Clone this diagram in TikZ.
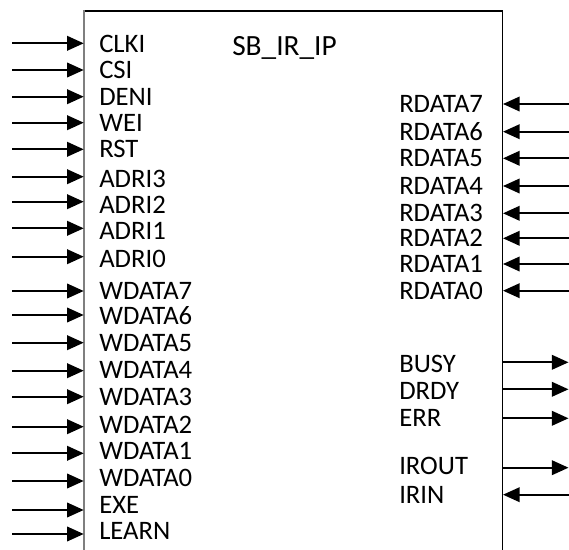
\documentclass[tikz,border=0pt]{standalone}
\usepackage{fontspec}
\setmainfont{Carlito}
\usetikzlibrary{arrows.meta,positioning,calc}
\definecolor{edgegray}{RGB}{127,127,127}
\tikzset{
  sig/.style={inner sep=0pt, anchor=west, font=\fontsize{20}{24}\selectfont,
              text height=12.6pt, text depth=0pt},
  arr/.style={-{Triangle[length=12.5pt,width=11pt]}, line width=1.3pt},
}

\begin{document}
\begin{tikzpicture}[x=0.75pt, y=-0.75pt]
    \useasboundingbox (0,0) rectangle (569,550);
    % block outline, open at the bottom
    \node[draw, line width=1pt, anchor=north west, inner sep=0pt,
          minimum width=313.5pt, minimum height=420pt] (ip) at (83.7,10.3) {};
    \draw[edgegray, line width=1.5pt] (ip.north west)--(ip.south west);
    \node[sig, font=\fontsize{22}{26}\selectfont, text height=13.9pt] (title) at (232,46) {SB\_IR\_IP};
    % left side inputs
    \foreach \name/\ty/\ay [count=\i] in {CLKI/43.8/43.3, CSI/70/70, DENI/97.2/96.7,
        WEI/122.8/122.7, RST/149.5/149.3, ADRI3/179/176.7, ADRI2/204.7/201.7,
        ADRI1/231.5/228.3, ADRI0/258.7/256.7, WDATA7/291.3/291, WDATA6/316.5/315,
        WDATA5/343.3/342.7, WDATA4/370.5/370.7, WDATA3/397/396.7, WDATA2/424.7/426.7,
        WDATA1/451/453.3, WDATA0/478/481, EXE/504.7/510, LEARN/531/534}{
      \node[sig] (in\i) at (99,\ty) {\name};
      \coordinate (a\i) at (12,\ay);
      \draw[arr] (a\i)--(a\i -| ip.west);
    }
    % right side inputs
    \foreach \name/\ay [count=\i] in {RDATA7/104, RDATA6/131.7, RDATA5/158.3, RDATA4/186,
        RDATA3/213.3, RDATA2/238.3, RDATA1/264, RDATA0/290.7, IRIN/494.7}{
      \node[sig] (rin\i) at (399,\ay) {\name};
      \coordinate (b\i) at (569,\ay);
      \draw[arr] (b\i)--(b\i -| ip.east);
    }
    % right side outputs
    \foreach \name/\ty/\ay [count=\i] in {BUSY/363.8/362.3, DRDY/391/389.3,
        ERR/418/418.3, IROUT/466.5/467.7}{
      \node[sig] (out\i) at (399,\ty) {\name};
      \coordinate (c\i) at (568.5,\ay);
      \draw[arr] (c\i -| ip.east)--(c\i);
    }
\end{tikzpicture}
\end{document}
